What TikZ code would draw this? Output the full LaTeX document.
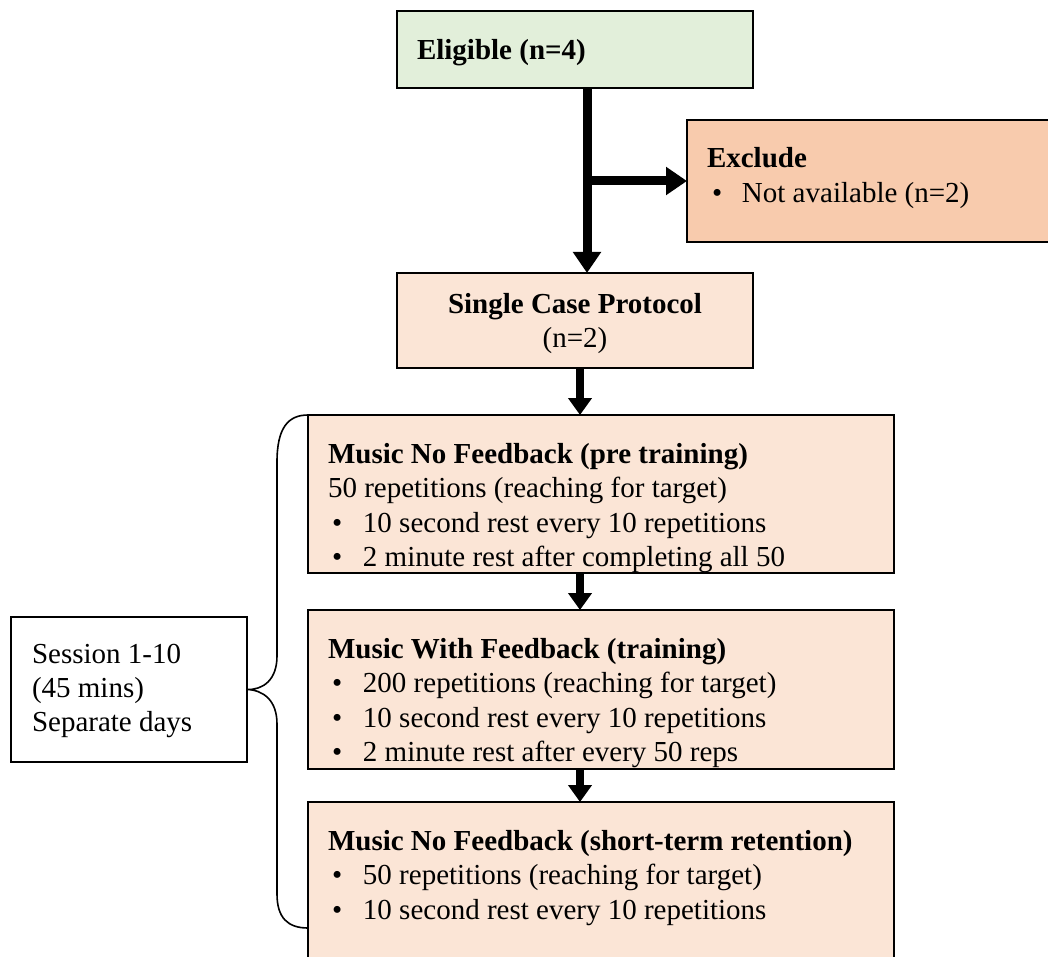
\documentclass[tikz,border=0pt]{standalone}
\usepackage{fontspec}
\setmainfont{Liberation Serif}
\usetikzlibrary{arrows.meta}
\definecolor{eligfill}{HTML}{E2EFDA}
\definecolor{exclfill}{HTML}{F8CBAD}
\definecolor{stagefill}{HTML}{FBE5D6}
\newcommand{\bulletitem}[1]{\makebox[31pt][l]{\textbullet}#1}
\begin{document}
\begin{tikzpicture}[x=1pt,y=-1pt,
  box/.style={draw=black, line width=1.8pt, inner sep=0pt, outer sep=0pt,
              anchor=north west},
  txt/.style={inner sep=0pt, outer sep=0pt, anchor=base west,
              font=\fontsize{29pt}{34.5pt}\selectfont},
  ctxt/.style={txt, anchor=base},
  bigarrow/.style={line width=9pt, -{Triangle[length=21pt,width=27pt]}},
  smallarrow/.style={line width=8pt, -{Triangle[length=17pt,width=23pt]}},
  brace/.style={line width=1.6pt, line join=round}]
\clip (0,0) rectangle (1048,957);

% boxes
\node[box, fill=eligfill, minimum width=356pt, minimum height=77pt] (elig) at (397,11) {};
\node[box, fill=exclfill, minimum width=370pt, minimum height=122pt] (excl) at (687,120) {};
\node[box, fill=stagefill, minimum width=356pt, minimum height=95pt] (sc) at (397,273) {};
\node[box, fill=stagefill, minimum width=586pt, minimum height=158pt] (m1) at (308,415) {};
\node[box, fill=stagefill, minimum width=586pt, minimum height=159pt] (m2) at (308,610) {};
\node[box, fill=stagefill, minimum width=586pt, minimum height=170pt] (m3) at (308,802) {};
\node[box, fill=white, minimum width=236pt, minimum height=145pt] (ses) at (11,617) {};

% texts
\node[txt] (t-elig) at (417,60) {\bfseries Eligible (n=4)};
\node[txt] (t-excl) at (707,168) {\bfseries Exclude};
\node[txt] (t-excl1) at (712,203) {\makebox[30pt][l]{\textbullet}Not available (n=2)};
\node[ctxt] (t-sc) at (575,313) {\bfseries Single Case Protocol};
\node[ctxt] (t-sc1) at (575,347) {(n=2)};

\node[txt] (t-m1) at (328,463) {\bfseries Music No Feedback (pre training)};
\node[txt] (t-m1a) at (328,497.5) {50 repetitions (reaching for target)};
\node[txt] (t-m1b) at (332,532) {\bulletitem{10 second rest every 10 repetitions}};
\node[txt] (t-m1c) at (332,566.5) {\bulletitem{2 minute rest after completing all 50}};

\node[txt] (t-m2) at (328,658) {\bfseries Music With Feedback (training)};
\node[txt] (t-m2a) at (332,692.5) {\bulletitem{200 repetitions (reaching for target)}};
\node[txt] (t-m2b) at (332,727) {\bulletitem{10 second rest every 10 repetitions}};
\node[txt] (t-m2c) at (332,761.5) {\bulletitem{2 minute rest after every 50 reps}};

\node[txt] (t-m3) at (328,850) {\bfseries Music No Feedback (short-term retention)};
\node[txt] (t-m3a) at (332,884.5) {\bulletitem{50 repetitions (reaching for target)}};
\node[txt] (t-m3b) at (332,919) {\bulletitem{10 second rest every 10 repetitions}};

\node[txt] (t-ses) at (32,663) {Session 1-10};
\node[txt] (t-ses1) at (32,697.5) {(45 mins)};
\node[txt] (t-ses2) at (32,731) {Separate days};

% connectors
\coordinate (trunk) at (587,0);
\coordinate (axis) at (580,0);
\coordinate (branch) at (trunk |- excl.west);
\draw[bigarrow] (elig.south -| trunk) -- (sc.north -| trunk);
\draw[bigarrow] (branch) -- (excl.west);
\draw[smallarrow] (sc.south -| axis) -- (m1.north -| axis);
\draw[smallarrow] (m1.south -| axis) -- (m2.north -| axis);
\draw[smallarrow] (m2.south -| axis) -- (m3.north -| axis);

% curly brace grouping the three stages
\coordinate (braceend) at (308,928);
\draw[brace] (m1.north west) .. controls (288,415) and (277,428) .. (277,462)
  -- (277,656) .. controls (277,680) and (263,690) .. (ses.east)
  .. controls (263,690) and (277,700) .. (277,724)
  -- (277,894) .. controls (277,918) and (288,928) .. (braceend);
\end{tikzpicture}
\end{document}
